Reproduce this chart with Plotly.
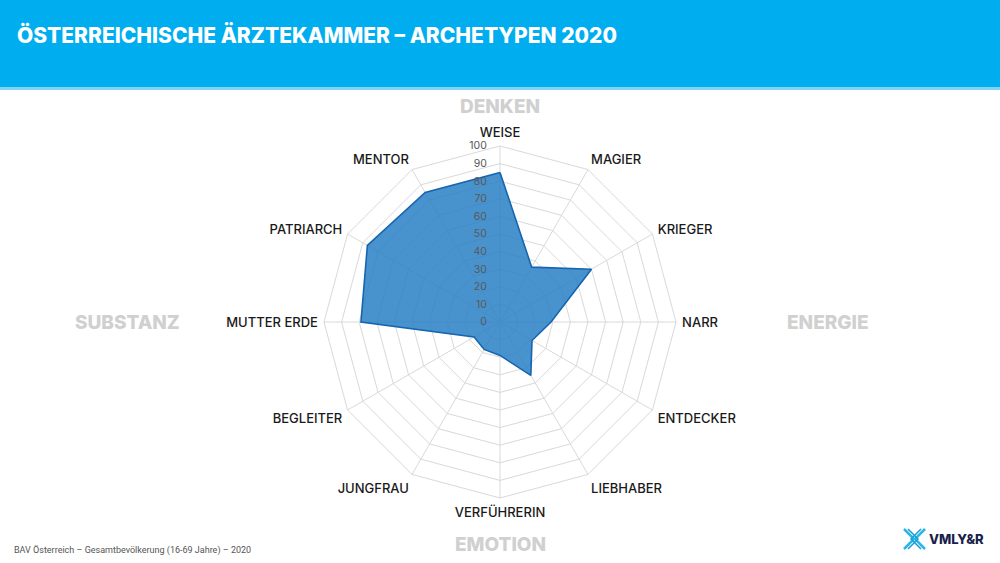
import plotly.graph_objects as go

categories = ["WEISE", "MAGIER", "KRIEGER", "NARR", "ENTDECKER", "LIEBHABER",
              "VERFÜHRERIN", "JUNGFRAU", "BEGLEITER", "MUTTER ERDE", "PATRIARCH", "MENTOR"]
values = [85, 36, 60, 29, 21, 35, 19, 18, 17, 79, 87, 85]
radial_ticks = list(range(0, 101, 10))
quadrant_labels = ["DENKEN", "ENERGIE", "EMOTION", "SUBSTANZ"]

title_text = "ÖSTERREICHISCHE ÄRZTEKAMMER – ARCHETYPEN 2020"
footer_text = "BAV Österreich – Gesamtbevölkerung (16-69 Jahre) – 2020"

W, H = 1000, 563
cx, cy, R = 500, 322, 176

fig = go.Figure()
fig.add_trace(go.Scatterpolar(
    r=values + values[:1],
    theta=categories + categories[:1],
    mode="lines",
    fill="toself",
    fillcolor="rgba(40,128,196,0.85)",
    line=dict(color="#1565b0", width=1.6),
    hoverinfo="skip",
    showlegend=False,
))

fig.update_layout(
    width=W, height=H,
    margin=dict(l=0, r=0, t=0, b=0),
    paper_bgcolor="white",
    plot_bgcolor="white",
    font=dict(family="Inter, Lato, sans-serif", color="#222222"),
    polar=dict(
        domain=dict(x=[(cx - R) / W, (cx + R) / W],
                    y=[(H - cy - R) / H, (H - cy + R) / H]),
        bgcolor="white",
        gridshape="linear",
        angularaxis=dict(
            rotation=90, direction="clockwise",
            categoryorder="array", categoryarray=categories,
            showline=True, linecolor="#d9d9d9", linewidth=1,
            gridcolor="#d9d9d9", gridwidth=1,
            ticks="outside", ticklen=3, tickcolor="rgba(0,0,0,0)",
            tickfont=dict(size=13, color="#1a1a1a", family="Inter, sans-serif", weight=500),
        ),
        radialaxis=dict(
            range=[0, 100], tickvals=radial_ticks, angle=90, tickangle=90,
            side="counterclockwise",
            showline=False, ticks="outside", ticklen=9, tickcolor="rgba(0,0,0,0)",
            gridcolor="#d9d9d9", gridwidth=1,
            tickfont=dict(size=10.5, color="#595959", family="Inter, sans-serif"),
        ),
    ),
    shapes=[
        dict(type="rect", xref="paper", yref="paper", x0=0, x1=1,
             y0=1 - 87 / H, y1=1, fillcolor="#00aeef", line=dict(width=0), layer="below"),
        dict(type="rect", xref="paper", yref="paper", x0=0, x1=1,
             y0=1 - 90 / H, y1=1 - 87 / H, fillcolor="#7fd3f5", line=dict(width=0), layer="below"),
        # logo icon
        dict(type="path", xref="paper", yref="paper",
             path=f"M {904/W},{1-529/H} L {914/W},{1-539/H} L {904/W},{1-549/H}",
             line=dict(color="#29b6e8", width=2.5)),
        dict(type="path", xref="paper", yref="paper",
             path=f"M {925/W},{1-529/H} L {915/W},{1-539/H} L {925/W},{1-549/H}",
             line=dict(color="#29b6e8", width=2.5)),
        dict(type="path", xref="paper", yref="paper",
             path=f"M {908/W},{1-529/H} L {918/W},{1-539/H} L {908/W},{1-549/H}",
             line=dict(color="#1d9fd6", width=1.5)),
        dict(type="path", xref="paper", yref="paper",
             path=f"M {921/W},{1-529/H} L {911/W},{1-539/H} L {921/W},{1-549/H}",
             line=dict(color="#1d9fd6", width=1.5)),
    ],
)

annotations = [
    dict(text=title_text, x=15 / W, y=1 - 35 / H, xanchor="left", yanchor="middle",
         font=dict(size=21, color="white", family="Inter, sans-serif", weight=800)),
    dict(text=footer_text, x=12 / W, y=1 - 550 / H, xanchor="left", yanchor="middle",
         font=dict(size=9, color="#555555", family="Roboto, sans-serif")),
    dict(text="VMLY&R", x=927 / W, y=1 - 539 / H, xanchor="left", yanchor="middle",
         font=dict(size=13, color="#1b1f4a", family="Inter, sans-serif", weight=800)),
]
quad_pos = [(500, 106), (828, 322), (500, 544), (127, 322)]
for lbl, (px, py) in zip(quadrant_labels, quad_pos):
    annotations.append(dict(text=lbl, x=px / W, y=1 - py / H, xanchor="center", yanchor="middle",
                            font=dict(size=19, color="#d0d0d0", family="Inter, sans-serif", weight=800)))
for a in annotations:
    a.update(xref="paper", yref="paper", showarrow=False)
fig.update_layout(annotations=annotations)

fig.write_html("out.html", config={"displayModeBar": False},
               post_script="document.body.style.margin='0';document.body.style.overflow='hidden';")
